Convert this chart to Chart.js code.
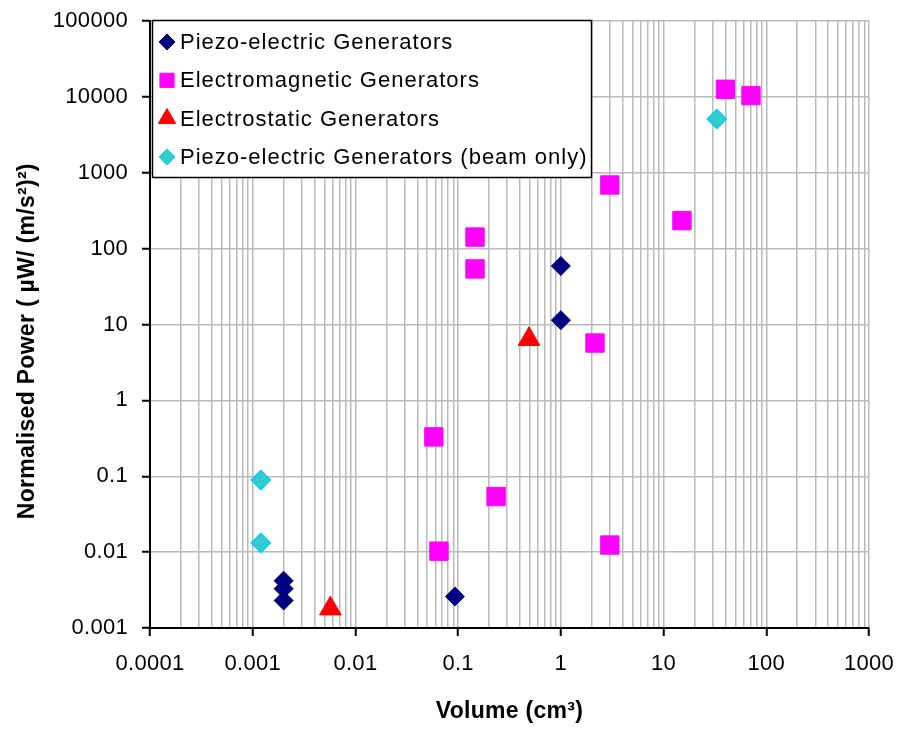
<!DOCTYPE html>
<html>
<head>
<meta charset="utf-8">
<script src="https://cdn.jsdelivr.net/npm/chart.js@4.4.1/dist/chart.umd.min.js"></script>
<style>
  html, body { margin: 0; padding: 0; background: #fff; }
  #wrap { width: 898px; height: 729px; }
</style>
</head>
<body>
<div id="wrap"><canvas id="powerChart" width="898" height="729"></canvas></div>
<script>
// tick labels (decades only)
const xTickLabels = ['0.0001', '0.001', '0.01', '0.1', '1', '10', '100', '1000'];
const yTickLabels = ['0.001', '0.01', '0.1', '1', '10', '100', '1000', '10000', '100000'];

// Piezo-electric generators
const piezoX = [0.002, 0.002, 0.002, 0.093, 1.0, 1.0];
const piezoY = [0.0042, 0.0033, 0.0023, 0.0026, 59, 11.4];

// Electromagnetic generators
const emX = [40, 71, 3.0, 15.1, 0.146, 0.146, 2.15, 0.058, 0.234, 0.065, 3.0];
const emY = [12600, 10400, 690, 234, 142, 54, 5.7, 0.33, 0.054, 0.0103, 0.0124];

// Electrostatic generators
const esX = [0.49, 0.0057];
const esY = [6.4, 0.0018];

// Piezo-electric generators (beam only)
const beamX = [0.0012, 0.0012, 33];
const beamY = [0.089, 0.0132, 5100];

const FONT = '"Liberation Sans", Arial, sans-serif';

function toPoints(xs, ys) {
    return xs.map((x, i) => ({ x: x, y: ys[i] }));
}

// log ticks: every 1..9 multiple for x, decades only for y
function logTicks(labels, withMinor) {
    const ticks = [];
    labels.forEach((l, i) => {
        const d = Number(l);
        ticks.push({ value: d, major: true });
        if (withMinor && i < labels.length - 1) {
            for (let k = 2; k <= 9; k++) ticks.push({ value: k * d, major: false });
        }
    });
    return ticks;
}

function labelFor(labels, value) {
    const hit = labels.find(l => Math.abs(Number(l) - value) < value * 1e-6);
    return hit === undefined ? '' : hit;
}

// slightly wide letter spacing like the Excel export; canvas resets clear it
const spacingPlugin = {
    id: 'spacing',
    beforeUpdate(chart) { chart.ctx.letterSpacing = '0.3px'; },
    beforeLayout(chart) { chart.ctx.letterSpacing = '0.3px'; },
    beforeDraw(chart) { chart.ctx.letterSpacing = '0.3px'; }
};

// boxed legend in the top-left corner of the plot area
const boxLegend = {
    id: 'boxLegend',
    afterDraw(chart) {
        const c = chart.ctx;
        const area = chart.chartArea;
        const left = area.left + 2, top = area.top - 1;
        const w = 439, rowH = 38.3;
        const h = 157;
        c.save();
        c.letterSpacing = '1px';
        c.fillStyle = '#fff';
        c.fillRect(left, top, w, h);
        c.strokeStyle = '#000';
        c.lineWidth = 1.5;
        c.strokeRect(left + 0.5, top + 0.5, w, h);
        c.font = '22px ' + FONT;
        c.textBaseline = 'middle';
        c.textAlign = 'left';
        chart.data.datasets.forEach((ds, i) => {
            const y = top + 22 + i * rowH;
            c.fillStyle = ds.backgroundColor;
            c.strokeStyle = ds.borderColor;
            c.lineWidth = 1;
            Chart.helpers.drawPoint(c, { pointStyle: ds.pointStyle, radius: ds.legendRadius, borderWidth: 1, rotation: 0 }, left + 15, y);
            c.fillStyle = '#000';
            c.fillText(ds.label, left + 28, y + 1);
        });
        c.restore();
    }
};

const ctx = document.getElementById('powerChart').getContext('2d');

new Chart(ctx, {
    type: 'scatter',
    data: {
        datasets: [
            {
                label: 'Piezo-electric Generators',
                data: toPoints(piezoX, piezoY),
                pointStyle: 'rectRot',
                backgroundColor: '#000080',
                borderColor: '#000080',
                pointRadius: 9.5,
                pointBorderWidth: 1,
                legendRadius: 8
            },
            {
                label: 'Electromagnetic Generators',
                data: toPoints(emX, emY),
                pointStyle: 'rect',
                backgroundColor: '#FF00FF',
                borderColor: '#FF00FF',
                pointRadius: 13,
                pointBorderWidth: 1,
                legendRadius: 10
            },
            {
                label: 'Electrostatic Generators',
                data: toPoints(esX, esY),
                pointStyle: 'triangle',
                backgroundColor: '#FF0000',
                borderColor: '#FF0000',
                pointRadius: 12.5,
                pointBorderWidth: 1,
                legendRadius: 10
            },
            {
                label: 'Piezo-electric Generators (beam only)',
                data: toPoints(beamX, beamY),
                pointStyle: 'rectRot',
                backgroundColor: '#33CCCC',
                borderColor: '#00CCFF',
                pointRadius: 9.5,
                pointBorderWidth: 1.5,
                legendRadius: 8
            }
        ]
    },
    options: {
        responsive: false,
        animation: false,
        events: [],
        layout: { padding: { top: 21, right: 29, left: 0, bottom: 0 } },
        plugins: {
            legend: { display: false },
            tooltip: { enabled: false }
        },
        scales: {
            x: {
                type: 'logarithmic',
                min: 0.0001,
                max: 1000,
                afterBuildTicks: scale => { scale.ticks = logTicks(xTickLabels, true); },
                afterFit: scale => {
                    scale.height = 101;
                    scale.paddingLeft = 0;
                    scale.paddingRight = 0;
                },
                ticks: {
                    autoSkip: false,
                    maxRotation: 0,
                    padding: 15,
                    color: '#000',
                    font: { family: FONT, size: 22 },
                    callback: value => labelFor(xTickLabels, value)
                },
                grid: {
                    color: '#BABABA',
                    lineWidth: 1.5,
                    tickLength: 8,
                    tickWidth: 2,
                    tickColor: c => (c.tick && c.tick.major) ? '#000' : 'rgba(0,0,0,0)'
                },
                border: { color: '#000', width: 2 },
                title: {
                    display: true,
                    text: 'Volume (cm³)',
                    color: '#000',
                    font: { family: FONT, size: 23, weight: 'bold' },
                    padding: { top: 0, bottom: 4 }
                }
            },
            y: {
                type: 'logarithmic',
                min: 0.001,
                max: 100000,
                afterBuildTicks: scale => { scale.ticks = logTicks(yTickLabels, false); },
                afterFit: scale => {
                    scale.width = 150;
                    scale.paddingTop = 0;
                    scale.paddingBottom = 0;
                },
                ticks: {
                    autoSkip: false,
                    padding: 14,
                    color: '#000',
                    font: { family: FONT, size: 22 },
                    callback: value => labelFor(yTickLabels, value)
                },
                grid: {
                    color: '#BABABA',
                    lineWidth: 1.5,
                    tickLength: 8,
                    tickWidth: 2,
                    tickColor: '#000'
                },
                border: { color: '#000', width: 2 },
                title: {
                    display: true,
                    text: 'Normalised Power ( µW/ (m/s²)²)     ',
                    color: '#000',
                    font: { family: FONT, size: 23, weight: 'bold' },
                    padding: { top: 14, bottom: 0 }
                }
            }
        }
    },
    plugins: [spacingPlugin, boxLegend]
});
</script>
</body>
</html>
